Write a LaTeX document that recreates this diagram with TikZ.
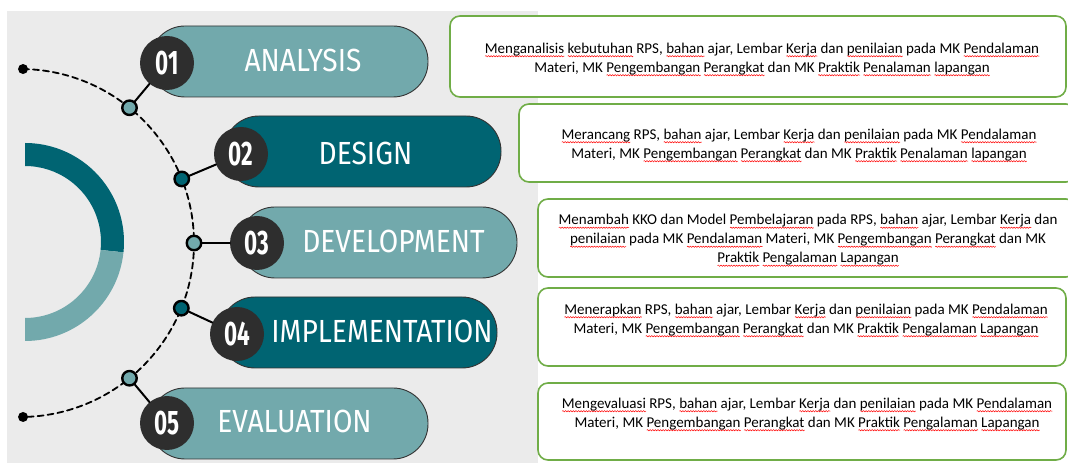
\documentclass[tikz,border=0pt]{standalone}
\usepackage{fontspec}
\usepackage{tikz}
\usetikzlibrary{arrows,decorations.pathmorphing}
\setmainfont{Carlito}
\newfontfamily\LabelFont[FakeStretch=0.88]{Fira Sans}
\newfontfamily\NumFont[FakeStretch=0.66]{Fira Sans}
\definecolor{LightTeal}{HTML}{72A9AC}
\definecolor{DarkTeal}{HTML}{006472}
\definecolor{NumGray}{HTML}{2E2E2E}
\definecolor{PanelGray}{HTML}{EBEBEB}
\definecolor{BoxGreen}{HTML}{70AD47}
\newlength{\SpellWd}
\newcommand{\Spell}[1]{\settowidth{\SpellWd}{#1}\rlap{\smash{\tikz[baseline=0pt]\draw[red,line width=0.5pt,decorate,decoration={snake,amplitude=0.7pt,segment length=2.6pt}] (0pt,-2.8pt) -- (\SpellWd,-2.8pt);}}#1}

\begin{document}
\begin{tikzpicture}[line cap=round,line join=round,x=1pt,y=1pt,
  pill/.style={draw=black!80,line width=0.9pt,rounded corners=35pt,minimum height=71pt,inner sep=0pt},
  lbl/.style={text=white,inner sep=0pt,font=\LabelFont\fontsize{32}{32}\selectfont},
  num/.style={circle,fill=NumGray,minimum size=54pt,inner sep=0pt,text=white,font=\NumFont\bfseries\fontsize{34}{34}\selectfont},
  knob/.style={circle,draw=black,line width=2.4pt,minimum size=14.5pt,inner sep=0pt},
  tip/.style={circle,fill=black,minimum size=10pt,inner sep=0pt},
  link/.style={line width=2pt},
  descbox/.style={draw=BoxGreen,line width=1.6pt,rounded corners=10pt,fill=white,inner sep=0pt},
  desc/.style={align=center,inner sep=0pt,font=\fontsize{15}{19}\selectfont}]
  \useasboundingbox (0,0) rectangle (1068,463);
  \fill[white] (0,0) rectangle (1068,463);
  \fill[PanelGray] (7,0) rectangle (538,452);
  \coordinate (r) at (25,221);
  \coordinate (o) at (20,220);
  \fill[DarkTeal] ([shift={(90:99)}]r) arc (90:-6:99) -- ([shift={(-6:76)}]r) arc (-6:90:76) -- cycle;
  \fill[LightTeal] ([shift={(-6:99)}]r) arc (-6:-90:99) -- ([shift={(-90:76)}]r) arc (-90:-6:76) -- cycle;
  \node[tip] (top) at ([shift={(89:174)}]o) {};
  \node[tip] (bot) at ([shift={(-89:174)}]o) {};
  \draw[line width=1.8pt,dash pattern=on 6pt off 4pt] (top.center) arc (89:-89:174);
  \node[pill,fill=LightTeal,minimum width=278pt] (p1) at (289,401.5) {};
  \node[pill,fill=DarkTeal,minimum width=277pt] (p2) at (362.5,311.5) {};
  \node[pill,fill=LightTeal,minimum width=277pt] (p3) at (378.5,220.5) {};
  \node[pill,fill=DarkTeal,minimum width=277pt] (p4) at (358.5,130.5) {};
  \node[pill,fill=LightTeal,minimum width=278pt] (p5) at (289,39.5) {};
  \node[lbl] (l1) at (303,402.5) {ANALYSIS};
  \node[lbl] (l2) at (365.5,310) {DESIGN};
  \node[lbl] (l3) at (393.5,222) {DEVELOPMENT};
  \node[lbl] (l4) at (382,131.5) {IMPLEMENTATION};
  \node[lbl] (l5) at (294.5,42) {EVALUATION};
  \node[num] (n1) at (167,400) {01};
  \node[num] (n2) at (241,309) {02};
  \node[num] (n3) at (257,220) {03};
  \node[num] (n4) at (237,129) {04};
  \node[num] (n5) at (167,40) {05};
  \node[knob,fill=LightTeal] (k1) at ([shift={(51:174)}]o) {};
  \node[knob,fill=DarkTeal] (k2) at ([shift={(21.6:174)}]o) {};
  \node[knob,fill=LightTeal] (k3) at ([shift={(0:174)}]o) {};
  \node[knob,fill=DarkTeal] (k4) at ([shift={(-22:174)}]o) {};
  \node[knob,fill=LightTeal] (k5) at ([shift={(-51:174)}]o) {};
  \draw[link] (k1) -- (n1);
  \draw[link] (k2) -- (n2);
  \draw[link] (k3) -- (n3);
  \draw[link] (k4) -- (n4);
  \draw[link] (k5) -- (n5);
  \node[descbox,minimum width=616pt,minimum height=81pt] (b1) at (758,406.5) {};
  \node[descbox,minimum width=557pt,minimum height=78pt] (b2) at (797.5,320) {};
  \node[descbox,minimum width=538pt,minimum height=78pt] (b3) at (807,225) {};
  \node[descbox,minimum width=528pt,minimum height=78pt] (b4) at (802,136) {};
  \node[descbox,minimum width=528pt,minimum height=77pt] (b5) at (802,41.5) {};
  \node[desc] (t1) at (762,404) {\Spell{Menganalisis} \Spell{kebutuhan} RPS, \Spell{bahan} ajar, Lembar \Spell{Kerja} dan \Spell{penilaian} pada MK \Spell{Pendalaman}\\
    Materi, MK \Spell{Pengembangan} \Spell{Perangkat} dan MK \Spell{Praktik} \Spell{Penalaman} \Spell{lapangan}};
  \node[desc] (t2) at (799,318) {\Spell{Merancang} RPS, \Spell{bahan} ajar, Lembar \Spell{Kerja} dan \Spell{penilaian} pada MK \Spell{Pendalaman}\\
    Materi, MK \Spell{Pengembangan} \Spell{Perangkat} dan MK \Spell{Praktik} \Spell{Penalaman} \Spell{lapangan}};
  \node[desc] (t3) at (808,223) {\Spell{Menambah} KKO dan Model \Spell{Pembelajaran} pada RPS, \Spell{bahan} ajar, Lembar \Spell{Kerja} dan\\
    \Spell{penilaian} pada MK \Spell{Pendalaman} Materi, MK \Spell{Pengembangan} \Spell{Perangkat} dan MK\\
    \Spell{Praktik} \Spell{Pengalaman} \Spell{Lapangan}};
  \node[desc] (t4) at (806,143) {\Spell{Menerapkan} RPS, \Spell{bahan} ajar, Lembar \Spell{Kerja} dan \Spell{penilaian} pada MK \Spell{Pendalaman}\\
    Materi, MK \Spell{Pengembangan} \Spell{Perangkat} dan MK \Spell{Praktik} \Spell{Pengalaman} \Spell{Lapangan}};
  \node[desc] (t5) at (807,49) {\Spell{Mengevaluasi} RPS, \Spell{bahan} ajar, Lembar \Spell{Kerja} dan \Spell{penilaian} pada MK \Spell{Pendalaman}\\
    Materi, MK \Spell{Pengembangan} \Spell{Perangkat} dan MK \Spell{Praktik} \Spell{Pengalaman} \Spell{Lapangan}};
\end{tikzpicture}
\end{document}
